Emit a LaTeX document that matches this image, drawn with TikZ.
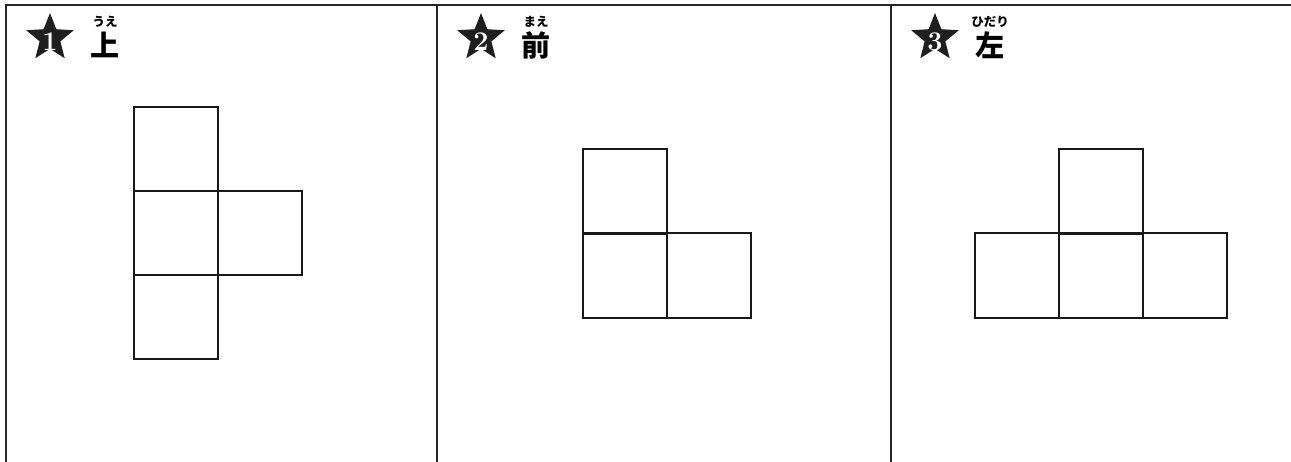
\documentclass[tikz,border=0pt]{standalone}
\usepackage{fontspec}
\newfontfamily\jp{Noto Sans CJK JP}
\usetikzlibrary{shapes.geometric}
\begin{document}
\begin{tikzpicture}[x=1pt,y=-1pt,
  frame/.style={line width=2.2pt,draw=black!85},
  cell/.style={line width=2pt,draw=black!90},
  starmark/.style={star,star points=5,star point ratio=2.3,fill=black!88,minimum size=50pt,inner sep=0pt},
  num/.style={text=white,font=\fontsize{27}{27}\selectfont\bfseries},
  kanji/.style={font=\jp\bfseries\fontsize{29}{29}\selectfont,inner sep=0pt},
  ruby/.style={font=\jp\bfseries\fontsize{12.5}{12.5}\selectfont,inner sep=0pt}]
\useasboundingbox (0,0) rectangle (1291,462);
% frame
\draw[frame] (6,462) -- (6,5) -- (1291,5);
\draw[frame] (437,5) -- (437,462);
\draw[frame] (891,5) -- (891,462);
% headers
\foreach \px/\n/\k/\r [count=\i] in {6/1/上/うえ,437/2/前/まえ,891/3/左/ひだり}{
  \node[starmark] (s\i) at (\px+44,38) {};
  \node[num] (n\i) at (\px+44,42) {\n};
  \node[kanji] (k\i) at (\px+99,45) {\k};
  \node[ruby] (r\i) at (\px+99,22) {\r};
}
% panel 1
\foreach \x/\y in {134/107,134/191,218/191,134/275}
  \draw[cell] (\x,\y) rectangle ++(84,84);
% panel 2
\foreach \x/\y in {583/149,583/233,667/233}
  \draw[cell] (\x,\y) rectangle ++(84,85);
% panel 3
\foreach \x/\y in {1059/149,975/233,1059/233,1143/233}
  \draw[cell] (\x,\y) rectangle ++(84,85);
\end{tikzpicture}
\end{document}
